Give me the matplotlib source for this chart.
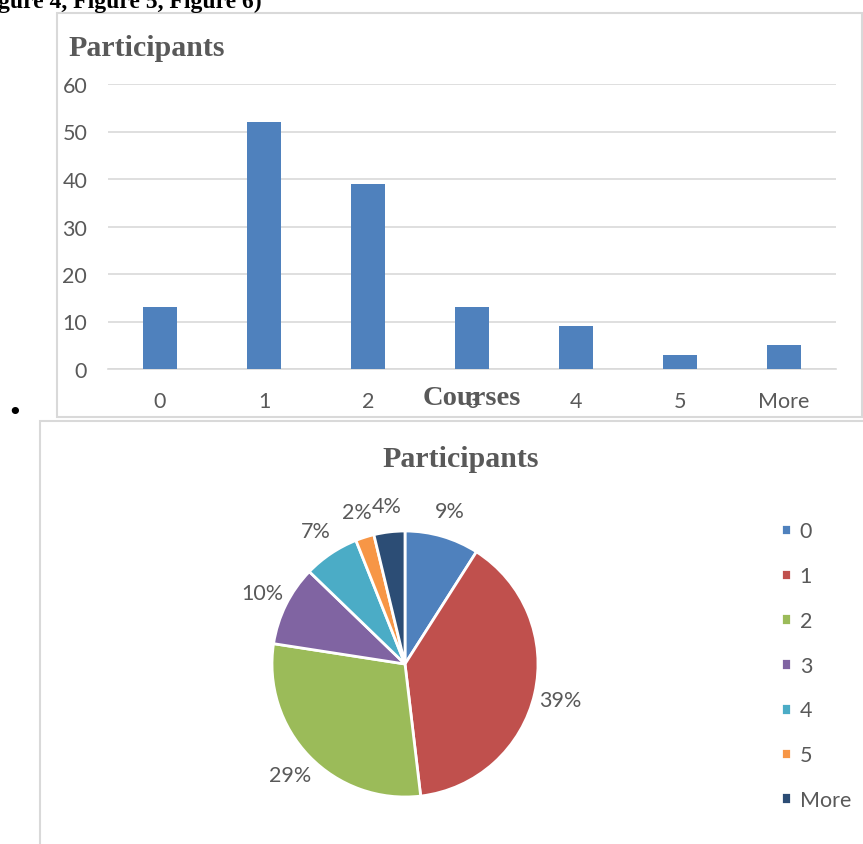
import matplotlib
matplotlib.use("Agg")
import matplotlib.pyplot as plt
from matplotlib.patches import Rectangle

# data
courses = ['0', '1', '2', '3', '4', '5', 'More']
participants = [13, 52, 39, 13, 9, 3, 5]
pie_values = [12, 52, 39, 13, 9, 3, 5]
y_ticks = [0, 10, 20, 30, 40, 50, 60]
pie_colors = ['#4F81BD', '#C0504D', '#9BBB59', '#8064A2', '#4BACC6', '#F79646', '#2C4D75']

W, H = 863, 845
GREY = '#595959'
SANS = 'Lato'
SERIF = 'Liberation Serif'


def rect(x, y, w, h):
    # pixel box (top-left origin) -> figure fraction
    return [x / W, 1 - (y + h) / H, w / W, h / H]


fig = plt.figure(figsize=(W / 100, H / 100), dpi=100)
fig.patch.set_facecolor('white')

# frames of the two embedded charts
for x, y, w, h in [(57, 14, 805, 404), (40, 422, 830, 430)]:
    fig.patches.append(Rectangle((x / W, 1 - (y + h) / H), w / W, h / H,
                                 transform=fig.transFigure, fill=False,
                                 edgecolor='#d9d9d9', linewidth=1.5))

# cut-off heading and bullet of the document
fig.text(-2 / W, 1 - 8 / H, 'gure 4, Figure 5, Figure 6)', fontfamily=SERIF,
         fontweight='bold', fontsize=17, color='black', va='baseline', ha='left')
fig.text(15 / W, 1 - 413 / H, '\u2022', fontsize=18, color='black',
         ha='center', va='center')

# bar chart
ax = fig.add_axes(rect(108, 85, 728, 285))
pos = range(len(courses))
ax.bar(pos, participants, width=0.32, color='#4F81BD', zorder=3)
ax.set_xlim(-0.5, len(courses) - 0.5)
ax.set_ylim(0, 60)
ax.set_yticks(y_ticks)
ax.set_xticks(list(pos))
ax.set_xticklabels(courses)
ax.grid(axis='y', color='#d9d9d9', linewidth=1.2, zorder=0)
for s in ['top', 'right', 'left']:
    ax.spines[s].set_visible(False)
ax.spines['bottom'].set_color('#d9d9d9')
ax.spines['bottom'].set_linewidth(1.2)
ax.tick_params(length=0, labelsize=15.5, labelcolor=GREY, pad=16)
for t in ax.get_xticklabels() + ax.get_yticklabels():
    t.set_fontfamily(SANS)
ax.tick_params(axis='y', pad=15)
fig.text(68 / W, 1 - 48 / H, 'Participants', fontfamily=SERIF, fontweight='bold',
         fontsize=21.5, color=GREY, ha='left', va='center')
fig.text(472 / W, 1 - 399 / H, 'Courses', fontfamily=SERIF, fontweight='bold',
         fontsize=20.5, color=GREY, ha='center', va='center')

# pie chart
r = 133
pax = fig.add_axes(rect(405 - 1.3 * r, 665 - 1.3 * r, 2.6 * r, 2.6 * r))
wedges, texts, autotexts = pax.pie(
    pie_values, colors=pie_colors, startangle=90, counterclock=False,
    autopct=lambda p: '%d%%' % round(p), pctdistance=1.2,
    wedgeprops=dict(edgecolor='white', linewidth=2),
    textprops=dict(fontsize=15.5, color=GREY, fontfamily=SANS))
pax.set_xlim(-1.3, 1.3)
pax.set_ylim(-1.3, 1.3)
pax.set_aspect('equal')
pax.axis('off')
fig.text(461 / W, 1 - 460 / H, 'Participants', fontfamily=SERIF, fontweight='bold',
         fontsize=21.5, color=GREY, ha='center', va='center')

leg = fig.legend(wedges, courses, loc='upper left',
                 bbox_to_anchor=(762 / W, 1 - 503 / H), frameon=False,
                 handlelength=0.45, handleheight=0.45, handletextpad=0.4,
                 labelspacing=1.15, prop=dict(family=SANS, size=15.5))
for t in leg.get_texts():
    t.set_color(GREY)

fig.savefig('out.png', dpi=100)
